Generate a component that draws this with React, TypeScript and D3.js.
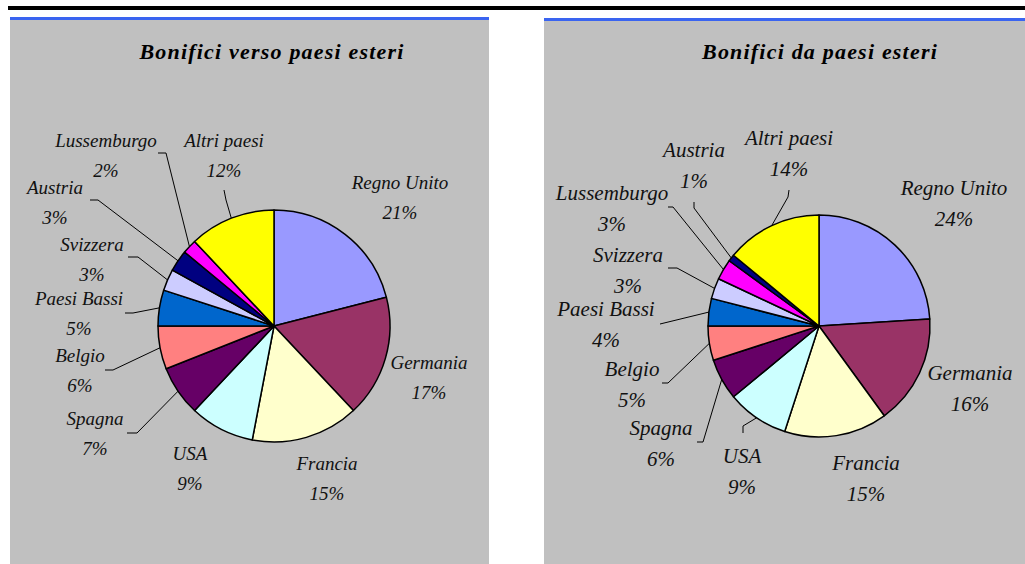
import * as d3 from 'd3';

// Bonifici verso paesi esteri (quote %)
const outCountries = ["Regno Unito", "Germania", "Francia", "USA", "Spagna", "Belgio", "Paesi Bassi", "Svizzera", "Austria", "Lussemburgo", "Altri paesi"];
const outValues = [21, 17, 15, 9, 7, 6, 5, 3, 3, 2, 12];

// Bonifici da paesi esteri (quote %)
const inCountries = ["Regno Unito", "Germania", "Francia", "USA", "Spagna", "Belgio", "Paesi Bassi", "Svizzera", "Lussemburgo", "Austria", "Altri paesi"];
const inValues = [24, 16, 15, 9, 6, 5, 4, 3, 3, 1, 14];

const countryColors: Record<string, string> = {
  "Regno Unito": "#9999ff",
  "Germania": "#993366",
  "Francia": "#ffffcc",
  "USA": "#ccffff",
  "Spagna": "#660066",
  "Belgio": "#ff8080",
  "Paesi Bassi": "#0066cc",
  "Svizzera": "#ccccff",
  "Austria": "#000080",
  "Lussemburgo": "#ff00ff",
  "Altri paesi": "#ffff00",
};

type Pt = [number, number];

// hand placed labels (center x, baseline of first line) and leader lines, per slice
const outLabels: Pt[] = [[400, 189], [429, 369], [327, 470], [190, 460], [95, 425], [80, 362], [79, 305], [92, 251], [55, 194], [106, 147], [224, 147]];
const outLeaders: (Pt[] | null)[] = [
  null, null, null, null,
  [[127, 433], [137, 433]],
  [[105, 370], [113, 370]],
  [[125, 313], [133, 313]],
  [[128, 257], [138, 257]],
  [[90, 200], [98, 200]],
  [[158, 153], [166, 153]],
  [[224, 190], [226, 200]],
];

const inLabels: Pt[] = [[954, 195], [970, 380], [866, 470], [742, 463], [661, 435], [632, 376], [606, 316], [628, 262], [612, 200], [694, 157], [789, 145]];
const inLeaders: (Pt[] | null)[] = [
  null, null, null,
  [[743, 433], [743, 426]],
  [[697, 442], [703, 442]],
  [[662, 383], [668, 383]],
  [[660, 324]],
  [[668, 268], [677, 268]],
  [[668, 207], [673, 207]],
  [[694, 202], [694, 208]],
  [[789, 190], [788, 197]],
];

const FONT = "'Liberation Serif', 'Times New Roman', serif";

type PanelProps = {
  title: string;
  titleX: number;
  x0: number;
  x1: number;
  barY: number;
  cx: number;
  cy: number;
  r: number;
  countries: string[];
  values: number[];
  labels: Pt[];
  leaders: (Pt[] | null)[];
  fontSize: number;
  lineGap: number;
};

function PiePanel(p: PanelProps) {
  const pie = d3.pie<number>().sort(null).value(d => d);
  const arcs = pie(p.values);
  const arc = d3.arc<d3.PieArcDatum<number>>().innerRadius(0).outerRadius(p.r);

  const edgePoint = (a: d3.PieArcDatum<number>): Pt => {
    const m = (a.startAngle + a.endAngle) / 2;
    return [p.cx + p.r * Math.sin(m), p.cy - p.r * Math.cos(m)];
  };

  return (
    <g>
      <rect x={p.x0} y={p.barY + 3} width={p.x1 - p.x0} height={564 - p.barY} fill="#c0c0c0" />
      <rect x={p.x0} y={p.barY} width={p.x1 - p.x0} height={3} fill="#3a64f0" />
      <text x={p.titleX} y={59} textAnchor="middle" fontFamily={FONT} fontStyle="italic" fontWeight="bold" fontSize={22} letterSpacing={1.2} fill="#000">
        {p.title}
      </text>
      <g transform={`translate(${p.cx},${p.cy})`}>
        {arcs.map((a, i) => (
          <path key={i} d={arc(a) || ""} fill={countryColors[p.countries[i]]} stroke="#000" strokeWidth={1.5} strokeLinejoin="round" />
        ))}
      </g>
      {arcs.map((a, i) => {
        const pts = p.leaders[i];
        if (!pts) return null;
        const line = d3.line()([...pts, edgePoint(a)]);
        return <path key={`l${i}`} d={line || ""} fill="none" stroke="#000" strokeWidth={1} />;
      })}
      {p.labels.map(([lx, ly], i) => (
        <text key={`t${i}`} x={lx} y={ly} textAnchor="middle" fontFamily={FONT} fontStyle="italic" fontSize={p.fontSize} fill="#111">
          <tspan x={lx}>{p.countries[i]}</tspan>
          <tspan x={lx} dy={p.lineGap}>{`${p.values[i]}%`}</tspan>
        </text>
      ))}
    </g>
  );
}

export default function App() {
  return (
    <svg width={1025} height={564} style={{ position: 'absolute', left: 0, top: 0, background: '#fff' }}>
      <rect x={8} y={6} width={1017} height={4} fill="#000" />
      <PiePanel
        title="Bonifici verso paesi esteri" titleX={272}
        x0={10} x1={489} barY={17}
        cx={274} cy={326} r={116}
        countries={outCountries} values={outValues}
        labels={outLabels} leaders={outLeaders}
        fontSize={19} lineGap={30}
      />
      <PiePanel
        title="Bonifici da paesi esteri" titleX={820}
        x0={544} x1={1025} barY={18}
        cx={819} cy={326} r={111}
        countries={inCountries} values={inValues}
        labels={inLabels} leaders={inLeaders}
        fontSize={21} lineGap={31}
      />
    </svg>
  );
}
